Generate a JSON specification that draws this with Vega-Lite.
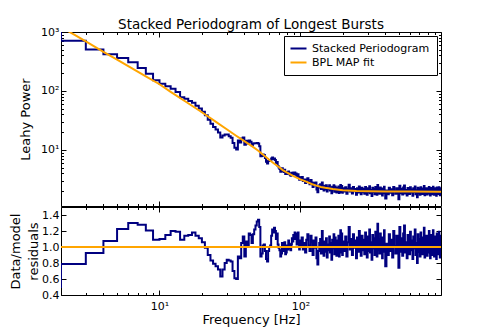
{
  "$schema": "https://vega.github.io/schema/vega-lite/v6.json",
  "padding": {"left": 8, "top": 17, "right": 5, "bottom": 1},
  "background": "white",
  "config": {
    "view": {"stroke": "black", "strokeWidth": 1},
    "font": "DejaVu Sans",
    "axis": {"domain": false, "grid": false, "labelFont": "DejaVu Sans", "labelFontSize": 11, "labelColor": "black", "titleFont": "DejaVu Sans", "titleFontSize": 13, "titleFontWeight": "normal", "titleColor": "black", "tickColor": "black", "labelOverlap": false, "labelFlush": false, "labelBound": false}
  },
  "datasets": {
    "pg": [
      {"f":1,"p":1500,"r":0.5},{"f":2,"p":712,"r":0.786},{"f":3,"p":505,"r":0.925},{"f":4,"p":418,"r":1.075},{"f":5,"p":364,"r":1.226},{"f":6,"p":306,"r":1.3},{"f":7,"p":246,"r":1.277},{"f":8,"p":195,"r":1.206},{"f":9,"p":152,"r":1.09},{"f":10,"p":133,"r":1.1},
      {"f":11,"p":120,"r":1.15},{"f":12,"p":109,"r":1.2},{"f":13,"p":96,"r":1.19},{"f":14,"p":78.5,"r":1.09},{"f":15,"p":73.9,"r":1.14},{"f":16,"p":67.7,"r":1.15},{"f":17,"p":63.2,"r":1.18},{"f":18,"p":56.1,"r":1.14},{"f":19,"p":50.4,"r":1.11},{"f":20,"p":44.4,"r":1.06},
      {"f":21,"p":38.6,"r":0.99},{"f":22,"p":32.5,"r":0.9},{"f":23,"p":27.9,"r":0.83},{"f":24,"p":24.6,"r":0.79},{"f":25,"p":22.2,"r":0.76},{"f":26,"p":19.8,"r":0.72},{"f":27,"p":16.3,"r":0.63},{"f":28,"p":17.5,"r":0.72},{"f":29,"p":18.3,"r":0.8},{"f":30,"p":18.3,"r":0.84},
      {"f":31,"p":17.1,"r":0.83},{"f":32,"p":16.1,"r":0.82},{"f":33,"p":13.1,"r":0.7},{"f":34,"p":10.9,"r":0.61},{"f":35,"p":10.2,"r":0.6},{"f":36,"p":14.4,"r":0.88},{"f":37,"p":13.4,"r":0.86},{"f":38,"p":15.7,"r":1.05},{"f":39,"p":16.3,"r":1.13},{"f":40,"p":12.2,"r":0.88},
      {"f":41,"p":14.3,"r":1.07},{"f":42,"p":12.9,"r":1.0},{"f":43,"p":14.5,"r":1.17},{"f":44,"p":13.7,"r":1.15},{"f":45,"p":12.0,"r":1.05},{"f":46,"p":12.8,"r":1.16},{"f":47,"p":13.0,"r":1.22},{"f":48,"p":13.0,"r":1.27},{"f":49,"p":13.1,"r":1.32},{"f":50,"p":12.9,"r":1.34},
      {"f":51,"p":11.6,"r":1.25},{"f":52,"p":7.8,"r":0.88},{"f":53,"p":7.9,"r":0.92},{"f":54,"p":8.4,"r":1.02},{"f":55,"p":8.2,"r":1.03},{"f":56,"p":7.3,"r":0.95},{"f":57,"p":6.3,"r":0.85},{"f":58,"p":5.9,"r":0.82},{"f":59,"p":6.5,"r":0.95},{"f":60,"p":6.7,"r":1.0},
      {"f":61,"p":6.6,"r":1.02},{"f":62,"p":7.15,"r":1.14},{"f":63,"p":7.43,"r":1.22},{"f":64,"p":6.97,"r":1.18},{"f":65,"p":7.15,"r":1.24},{"f":66,"p":6.73,"r":1.2},{"f":67,"p":6.03,"r":1.1},{"f":68,"p":6.24,"r":1.17},{"f":69,"p":5.36,"r":1.03},{"f":70,"p":5.03,"r":0.99},
      {"f":71,"p":4.77,"r":0.96},{"f":72,"p":4.27,"r":0.88},{"f":73,"p":4.37,"r":0.92},{"f":74,"p":4.88,"r":1.05},{"f":75,"p":4.54,"r":1.0},{"f":76,"p":4.23,"r":0.95},{"f":77,"p":4.63,"r":1.06},{"f":78,"p":3.89,"r":0.91},{"f":79,"p":3.92,"r":0.93},{"f":80,"p":4.21,"r":1.02},
      {"f":81,"p":3.94,"r":0.97},{"f":82,"p":4.32,"r":1.08},{"f":83,"p":4.09,"r":1.04},{"f":84,"p":3.79,"r":0.98},{"f":85,"p":3.66,"r":0.96},{"f":86,"p":3.86,"r":1.03},{"f":87,"p":4.11,"r":1.11},{"f":88,"p":3.91,"r":1.07},{"f":89,"p":4.13,"r":1.15},{"f":90,"p":3.96,"r":1.12},
      {"f":91,"p":4.14,"r":1.18},{"f":92,"p":3.81,"r":1.1},{"f":93,"p":3.99,"r":1.17},{"f":94,"p":3.48,"r":1.03},{"f":95,"p":3.76,"r":1.13},{"f":96,"p":3.88,"r":1.18},{"f":97,"p":3.46,"r":1.06},{"f":98,"p":3.13,"r":0.97},{"f":99,"p":3.45,"r":1.08},{"f":100,"p":3.19,"r":1.01},
      {"f":102,"p":3.47,"r":1.12},{"f":104,"p":2.97,"r":0.97},{"f":106,"p":3.15,"r":1.05},{"f":108,"p":2.74,"r":0.93},{"f":110,"p":3.16,"r":1.09},{"f":112,"p":3.31,"r":1.16},{"f":114,"p":2.86,"r":1.02},{"f":116,"p":2.61,"r":0.95},{"f":118,"p":3.08,"r":1.14},{"f":120,"p":2.81,"r":1.06},
      {"f":122,"p":2.36,"r":0.9},{"f":124,"p":2.79,"r":1.08},{"f":126,"p":2.52,"r":0.99},{"f":128,"p":2.81,"r":1.12},{"f":130,"p":2.13,"r":0.86},{"f":132,"p":1.92,"r":0.78},{"f":134,"p":2.31,"r":0.95},{"f":136,"p":2.53,"r":1.05},{"f":138,"p":2.62,"r":1.1},{"f":140,"p":2.17,"r":0.92},
      {"f":142,"p":2.81,"r":1.2},{"f":144,"p":2.35,"r":1.01},{"f":146,"p":2.06,"r":0.89},{"f":148,"p":2.46,"r":1.07},{"f":150,"p":2.14,"r":0.94},{"f":152,"p":2.52,"r":1.11},{"f":154,"p":1.97,"r":0.87},{"f":156,"p":2.32,"r":1.03},{"f":158,"p":2.15,"r":0.96},{"f":160,"p":2.52,"r":1.13},
      {"f":162,"p":2.06,"r":0.93},{"f":164,"p":2.31,"r":1.05},{"f":166,"p":1.84,"r":0.84},{"f":168,"p":2.38,"r":1.09},{"f":170,"p":2.13,"r":0.98},{"f":172,"p":2.51,"r":1.16},{"f":174,"p":1.96,"r":0.91},{"f":176,"p":2.41,"r":1.12},{"f":178,"p":2.23,"r":1.04},{"f":180,"p":1.9,"r":0.89},
      {"f":182,"p":2.29,"r":1.08},{"f":184,"p":2.01,"r":0.95},{"f":186,"p":2.41,"r":1.14},{"f":188,"p":1.86,"r":0.88},{"f":190,"p":2.14,"r":1.02},{"f":192,"p":2.54,"r":1.21},{"f":194,"p":1.94,"r":0.93},{"f":196,"p":2.45,"r":1.17},{"f":198,"p":1.87,"r":0.9},{"f":200,"p":2.23,"r":1.07},
      {"f":204,"p":1.97,"r":0.95},{"f":208,"p":2.34,"r":1.13},{"f":212,"p":1.81,"r":0.88},{"f":216,"p":2.18,"r":1.06},{"f":220,"p":2.56,"r":1.25},{"f":224,"p":1.98,"r":0.97},{"f":228,"p":2.24,"r":1.1},{"f":232,"p":1.83,"r":0.9},{"f":236,"p":2.35,"r":1.16},{"f":240,"p":2.0,"r":0.99},
      {"f":244,"p":2.18,"r":1.08},{"f":248,"p":1.73,"r":0.86},{"f":252,"p":2.25,"r":1.12},{"f":256,"p":1.89,"r":0.94},{"f":260,"p":2.4,"r":1.2},{"f":264,"p":2.06,"r":1.03},{"f":268,"p":1.78,"r":0.89},{"f":272,"p":2.28,"r":1.14},{"f":276,"p":1.92,"r":0.96},{"f":280,"p":2.17,"r":1.09},
      {"f":284,"p":1.81,"r":0.91},{"f":288,"p":2.35,"r":1.18},{"f":292,"p":1.99,"r":1.0},{"f":296,"p":1.73,"r":0.87},{"f":300,"p":2.25,"r":1.13},{"f":304,"p":1.89,"r":0.95},{"f":308,"p":2.43,"r":1.22},{"f":312,"p":1.84,"r":0.93},{"f":316,"p":2.1,"r":1.06},{"f":320,"p":1.66,"r":0.84},
      {"f":324,"p":2.28,"r":1.15},{"f":328,"p":1.94,"r":0.98},{"f":332,"p":2.2,"r":1.11},{"f":336,"p":1.78,"r":0.9},{"f":340,"p":2.36,"r":1.19},{"f":344,"p":2.02,"r":1.02},{"f":348,"p":1.74,"r":0.88},{"f":352,"p":2.55,"r":1.29},{"f":356,"p":1.9,"r":0.96},{"f":360,"p":2.18,"r":1.1},
      {"f":364,"p":1.81,"r":0.92},{"f":368,"p":2.3,"r":1.17},{"f":372,"p":1.91,"r":0.97},{"f":376,"p":2.21,"r":1.12},{"f":380,"p":1.69,"r":0.86},{"f":384,"p":2.13,"r":1.08},{"f":388,"p":1.85,"r":0.94},{"f":392,"p":2.38,"r":1.21},{"f":396,"p":1.95,"r":0.99},{"f":400,"p":1.5,"r":0.76},
      {"f":408,"p":2.05,"r":1.04},{"f":416,"p":1.77,"r":0.9},{"f":424,"p":2.29,"r":1.16},{"f":432,"p":1.87,"r":0.95},{"f":440,"p":2.15,"r":1.09},{"f":448,"p":1.71,"r":0.87},{"f":456,"p":2.36,"r":1.2},{"f":464,"p":1.99,"r":1.01},{"f":472,"p":1.81,"r":0.92},{"f":480,"p":2.25,"r":1.14},
      {"f":488,"p":1.91,"r":0.97},{"f":496,"p":1.46,"r":0.74},{"f":504,"p":2.46,"r":1.25},{"f":512,"p":1.85,"r":0.94},{"f":520,"p":2.19,"r":1.11},{"f":528,"p":1.75,"r":0.89},{"f":536,"p":2.3,"r":1.17},{"f":544,"p":2.5,"r":1.27},{"f":552,"p":1.83,"r":0.93},{"f":560,"p":2.09,"r":1.06},
      {"f":568,"p":1.69,"r":0.86},{"f":576,"p":2.27,"r":1.15},{"f":584,"p":1.97,"r":1.0},{"f":592,"p":1.79,"r":0.91},{"f":600,"p":2.34,"r":1.19},{"f":608,"p":1.89,"r":0.96},{"f":616,"p":2.13,"r":1.08},{"f":624,"p":1.67,"r":0.85},{"f":632,"p":2.23,"r":1.13},{"f":640,"p":1.93,"r":0.98},
      {"f":648,"p":2.4,"r":1.22},{"f":656,"p":1.77,"r":0.9},{"f":664,"p":2.07,"r":1.05},{"f":672,"p":1.58,"r":0.8},{"f":680,"p":2.29,"r":1.16},{"f":688,"p":1.85,"r":0.94},{"f":696,"p":2.17,"r":1.1},{"f":704,"p":1.73,"r":0.88},{"f":712,"p":2.32,"r":1.18},{"f":720,"p":2.01,"r":1.02},
      {"f":728,"p":1.79,"r":0.91},{"f":736,"p":2.21,"r":1.12},{"f":744,"p":1.87,"r":0.95},{"f":752,"p":2.44,"r":1.24},{"f":760,"p":1.71,"r":0.87},{"f":768,"p":2.09,"r":1.06},{"f":776,"p":1.91,"r":0.97},{"f":784,"p":2.25,"r":1.14},{"f":792,"p":1.75,"r":0.89},{"f":800,"p":2.15,"r":1.09},
      {"f":808,"p":1.83,"r":0.93},{"f":816,"p":2.36,"r":1.2},{"f":824,"p":1.95,"r":0.99},{"f":832,"p":1.69,"r":0.86},{"f":840,"p":2.27,"r":1.15},{"f":848,"p":1.85,"r":0.94},{"f":856,"p":2.13,"r":1.08},{"f":864,"p":1.77,"r":0.9},{"f":872,"p":2.38,"r":1.21},{"f":880,"p":1.97,"r":1.0},
      {"f":888,"p":1.73,"r":0.88},{"f":896,"p":2.23,"r":1.13},{"f":904,"p":1.89,"r":0.96},{"f":912,"p":2.17,"r":1.1},{"f":920,"p":1.67,"r":0.85},{"f":928,"p":2.3,"r":1.17},{"f":936,"p":1.91,"r":0.97},{"f":944,"p":2.21,"r":1.12},{"f":952,"p":1.79,"r":0.91},{"f":960,"p":2.34,"r":1.19},
      {"f":968,"p":1.95,"r":0.99},{"f":976,"p":1.71,"r":0.87},{"f":984,"p":2.25,"r":1.14},{"f":992,"p":1.83,"r":0.93},{"f":1000,"p":2.1,"r":1.05}
    ],
    "model": [
      {"f":2,"m":1215},{"f":2.5,"m":891},{"f":3,"m":691},{"f":4,"m":462},{"f":5,"m":339},{"f":6,"m":263},{"f":8,"m":177},{"f":10,"m":130},{"f":12,"m":96.8},{"f":15,"m":68.2},
      {"f":20,"m":43.6},{"f":25,"m":30.2},{"f":30,"m":22.4},{"f":35,"m":17.4},{"f":40,"m":14.1},{"f":45,"m":11.7},{"f":50,"m":9.8},{"f":55,"m":8.1},{"f":60,"m":6.8},{"f":65,"m":5.9},
      {"f":70,"m":5.2},{"f":75,"m":4.55},{"f":80,"m":4.15},{"f":90,"m":3.57},{"f":100,"m":3.17},{"f":110,"m":2.9},{"f":120,"m":2.65},{"f":130,"m":2.48},{"f":140,"m":2.36},{"f":150,"m":2.28},
      {"f":170,"m":2.17},{"f":200,"m":2.08},{"f":250,"m":2.01},{"f":300,"m":1.99},{"f":400,"m":1.97},{"f":600,"m":1.965},{"f":1000,"m":1.96}
    ],
    "unity": [{"f":1,"r":1},{"f":1000,"r":1}]
  },
  "vconcat": [
    {
      "title": {"text": "Stacked Periodogram of Longest Bursts", "fontSize": 13.5, "fontWeight": "normal", "font": "DejaVu Sans", "color": "black", "anchor": "middle", "frame": "group", "offset": -5},
      "width": 380,
      "height": 174,
      "layer": [
        {
          "data": {"name": "pg"},
          "mark": {"type": "line", "interpolate": "step-after", "strokeWidth": 2, "clip": true},
          "encoding": {
            "x": {"field": "f", "type": "quantitative", "scale": {"type": "log", "domain": [2, 995], "nice": false},
                  "axis": {"orient": "bottom", "title": null, "labels": false, "values": [2,3,4,5,6,7,8,9,10,20,30,40,50,60,70,80,90,100,200,300,400,500,600,700,800,900],
                           "tickSize": {"condition": {"test": "datum.value == 10 || datum.value == 100", "value": -5}, "value": -2.5}}},
            "y": {"field": "p", "type": "quantitative", "scale": {"type": "log", "domain": [1.12, 1000], "nice": false},
                  "axis": {"orient": "left", "title": "Leahy Power", "values": [2,3,4,5,6,7,8,9,10,20,30,40,50,60,70,80,90,100,200,300,400,500,600,700,800,900,1000],
                           "labelExpr": "datum.value == 10 ? '10¹' : datum.value == 100 ? '10²' : datum.value == 1000 ? '10³' : ''",
                           "tickSize": {"condition": {"test": "datum.value == 10 || datum.value == 100 || datum.value == 1000", "value": -5}, "value": -2.5},
                           "labelPadding": 7, "titleX": -29, "titleY": 87}},
            "color": {"datum": "Stacked Periodogram", "type": "nominal",
                      "scale": {"domain": ["Stacked Periodogram", "BPL MAP fit"], "range": ["#000080", "#ffa500"]},
                      "legend": {"orient": "top-right", "offset": 4, "title": null, "strokeColor": "black", "fillColor": "white", "padding": 7, "cornerRadius": 0,
                                 "symbolType": "M-1.5,0H2.5", "symbolSize": 64, "symbolStrokeWidth": 2, "labelFontSize": 11, "labelFont": "DejaVu Sans", "labelColor": "black", "labelOffset": 10, "rowPadding": 2, "labelLimit": 300}}
          }
        },
        {
          "data": {"name": "model"},
          "mark": {"type": "line", "strokeWidth": 2, "clip": true},
          "encoding": {
            "x": {"field": "f", "type": "quantitative", "scale": {"type": "log", "domain": [2, 995], "nice": false},
                  "axis": {"orient": "top", "title": null, "labels": false, "values": [2,3,4,5,6,7,8,9,10,20,30,40,50,60,70,80,90,100,200,300,400,500,600,700,800,900],
                           "tickSize": {"condition": {"test": "datum.value == 10 || datum.value == 100", "value": -5}, "value": -2.5}}},
            "y": {"field": "m", "type": "quantitative", "scale": {"type": "log", "domain": [1.12, 1000], "nice": false},
                  "axis": {"orient": "right", "title": null, "labels": false, "values": [2,3,4,5,6,7,8,9,10,20,30,40,50,60,70,80,90,100,200,300,400,500,600,700,800,900,1000],
                           "tickSize": {"condition": {"test": "datum.value == 10 || datum.value == 100 || datum.value == 1000", "value": -5}, "value": -2.5}}},
            "color": {"datum": "BPL MAP fit", "type": "nominal"}
          }
        }
      ],
      "resolve": {"axis": {"x": "independent", "y": "independent"}}
    },
    {
      "width": 380,
      "height": 88,
      "layer": [
        {
          "data": {"name": "pg"},
          "mark": {"type": "line", "interpolate": "step-after", "strokeWidth": 2, "clip": true, "color": "#000080"},
          "encoding": {
            "x": {"field": "f", "type": "quantitative", "scale": {"type": "log", "domain": [2, 995], "nice": false},
                  "axis": {"orient": "bottom", "title": "Frequency [Hz]", "values": [2,3,4,5,6,7,8,9,10,20,30,40,50,60,70,80,90,100,200,300,400,500,600,700,800,900],
                           "labelExpr": "datum.value == 10 ? '10¹' : datum.value == 100 ? '10²' : ''",
                           "tickSize": {"condition": {"test": "datum.value == 10 || datum.value == 100", "value": -5}, "value": -2.5},
                           "labelPadding": 10, "titlePadding": 0}},
            "y": {"field": "r", "type": "quantitative", "scale": {"domain": [0.4, 1.5], "nice": false, "zero": false},
                  "axis": {"orient": "left", "title": ["Data/model", "residuals"], "values": [0.4, 0.6, 0.8, 1.0, 1.2, 1.4], "format": ".1f",
                           "tickSize": -5, "labelPadding": 7, "titleX": -39, "titleY": 44, "titleLineHeight": 18}}
          }
        },
        {
          "data": {"name": "unity"},
          "mark": {"type": "line", "strokeWidth": 2, "clip": true, "color": "#ffa500"},
          "encoding": {
            "x": {"field": "f", "type": "quantitative", "scale": {"type": "log", "domain": [2, 995], "nice": false},
                  "axis": {"orient": "top", "title": null, "labels": false, "values": [2,3,4,5,6,7,8,9,10,20,30,40,50,60,70,80,90,100,200,300,400,500,600,700,800,900],
                           "tickSize": {"condition": {"test": "datum.value == 10 || datum.value == 100", "value": -5}, "value": -2.5}}},
            "y": {"field": "r", "type": "quantitative", "scale": {"domain": [0.4, 1.5], "nice": false, "zero": false},
                  "axis": {"orient": "right", "title": null, "labels": false, "values": [0.4, 0.6, 0.8, 1.0, 1.2, 1.4], "tickSize": -5}}
          }
        }
      ],
      "resolve": {"axis": {"x": "independent", "y": "independent"}}
    }
  ],
  "spacing": -4,
  "resolve": {"scale": {"color": "independent", "x": "independent", "y": "independent"}, "legend": {"color": "independent"}}
}
